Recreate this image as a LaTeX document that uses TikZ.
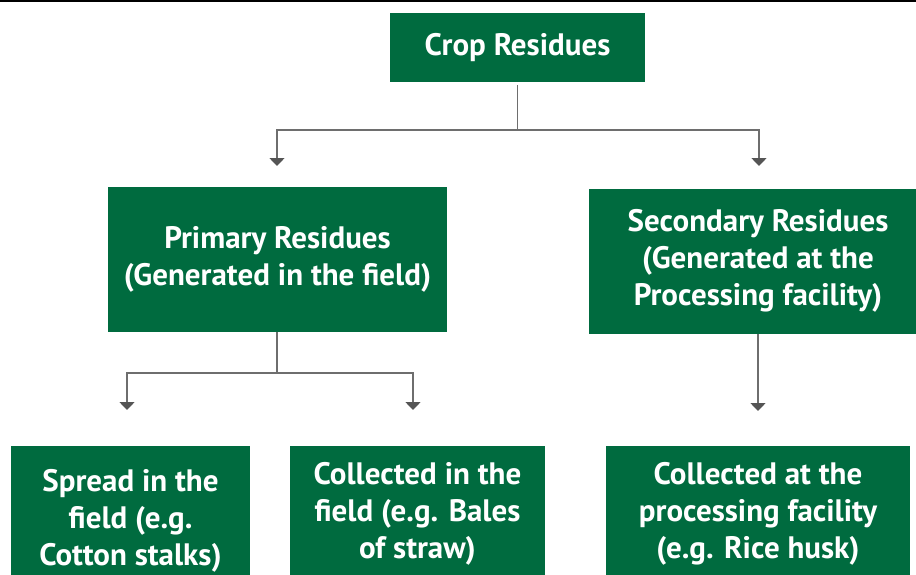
\documentclass[tikz,border=0pt]{standalone}
\usepackage{fontspec}
\setmainfont{PT Sans}
\usetikzlibrary{arrows.meta}
\definecolor{boxgreen}{HTML}{006B3F}
\definecolor{linegray}{HTML}{6E6E6E}
\definecolor{tipgray}{HTML}{555555}
\tikzset{
  gbox/.style={fill=boxgreen, draw=none, text=white, align=center, inner sep=0pt,
    font=\bfseries\fontsize{31}{37}\selectfont},
  conn/.style={draw=linegray, line width=1.5pt},
  arr/.style={conn, -{Triangle[width=15pt,length=8pt,fill=tipgray,color=tipgray]}}
}
\begin{document}
\begin{tikzpicture}[x=1pt,y=-1pt]
\useasboundingbox (0,0) rectangle (916,574);
\clip (0,0) rectangle (916,574);
\fill[white] (0,0) rectangle (916,574);
\draw[black, line width=2pt] (0,1.2) -- (916,1.2);

\node[gbox, minimum width=255pt, minimum height=69pt] (crop) at (517.5,47.5) {Crop Residues};
\node[gbox, minimum width=339pt, minimum height=145pt] (prim) at (277.5,259.5) {Primary Residues\\(Generated in the field)};
\node[gbox, minimum width=338pt, minimum height=145pt] (sec) at (758,261) {Secondary Residues\\(Generated at the\\Processing facility)};
\node[gbox, minimum width=239pt, minimum height=150pt] (b1) at (130.5,521) {Spread in the\\field (e.g.\\Cotton stalks)};
\node[gbox, minimum width=255pt, minimum height=136pt] (b2) at (417.5,514) {Collected in the\\field (e.g. Bales\\of straw)};
\node[gbox, minimum width=304pt, minimum height=136pt] (b3) at (758,514) {Collected at the\\processing facility\\(e.g. Rice husk)};

\coordinate (j1) at (517.5,130);
\coordinate (t1) at (277,166);
\coordinate (t2) at (759,166);
\draw[conn] ([yshift=-3pt]crop.south) -- (j1);
\draw[arr] (j1) -| (t1);
\draw[arr] (j1) -| (t2);

\coordinate (j2) at (277,373);
\coordinate (t3) at (127,410);
\coordinate (t4) at (413,410);
\draw[conn] (prim.south -| j2) -- (j2);
\draw[arr] (j2) -| (t3);
\draw[arr] (j2) -| (t4);

\coordinate (t5) at (758,411);
\draw[arr] (sec.south -| t5) -- (t5);
\end{tikzpicture}
\end{document}
